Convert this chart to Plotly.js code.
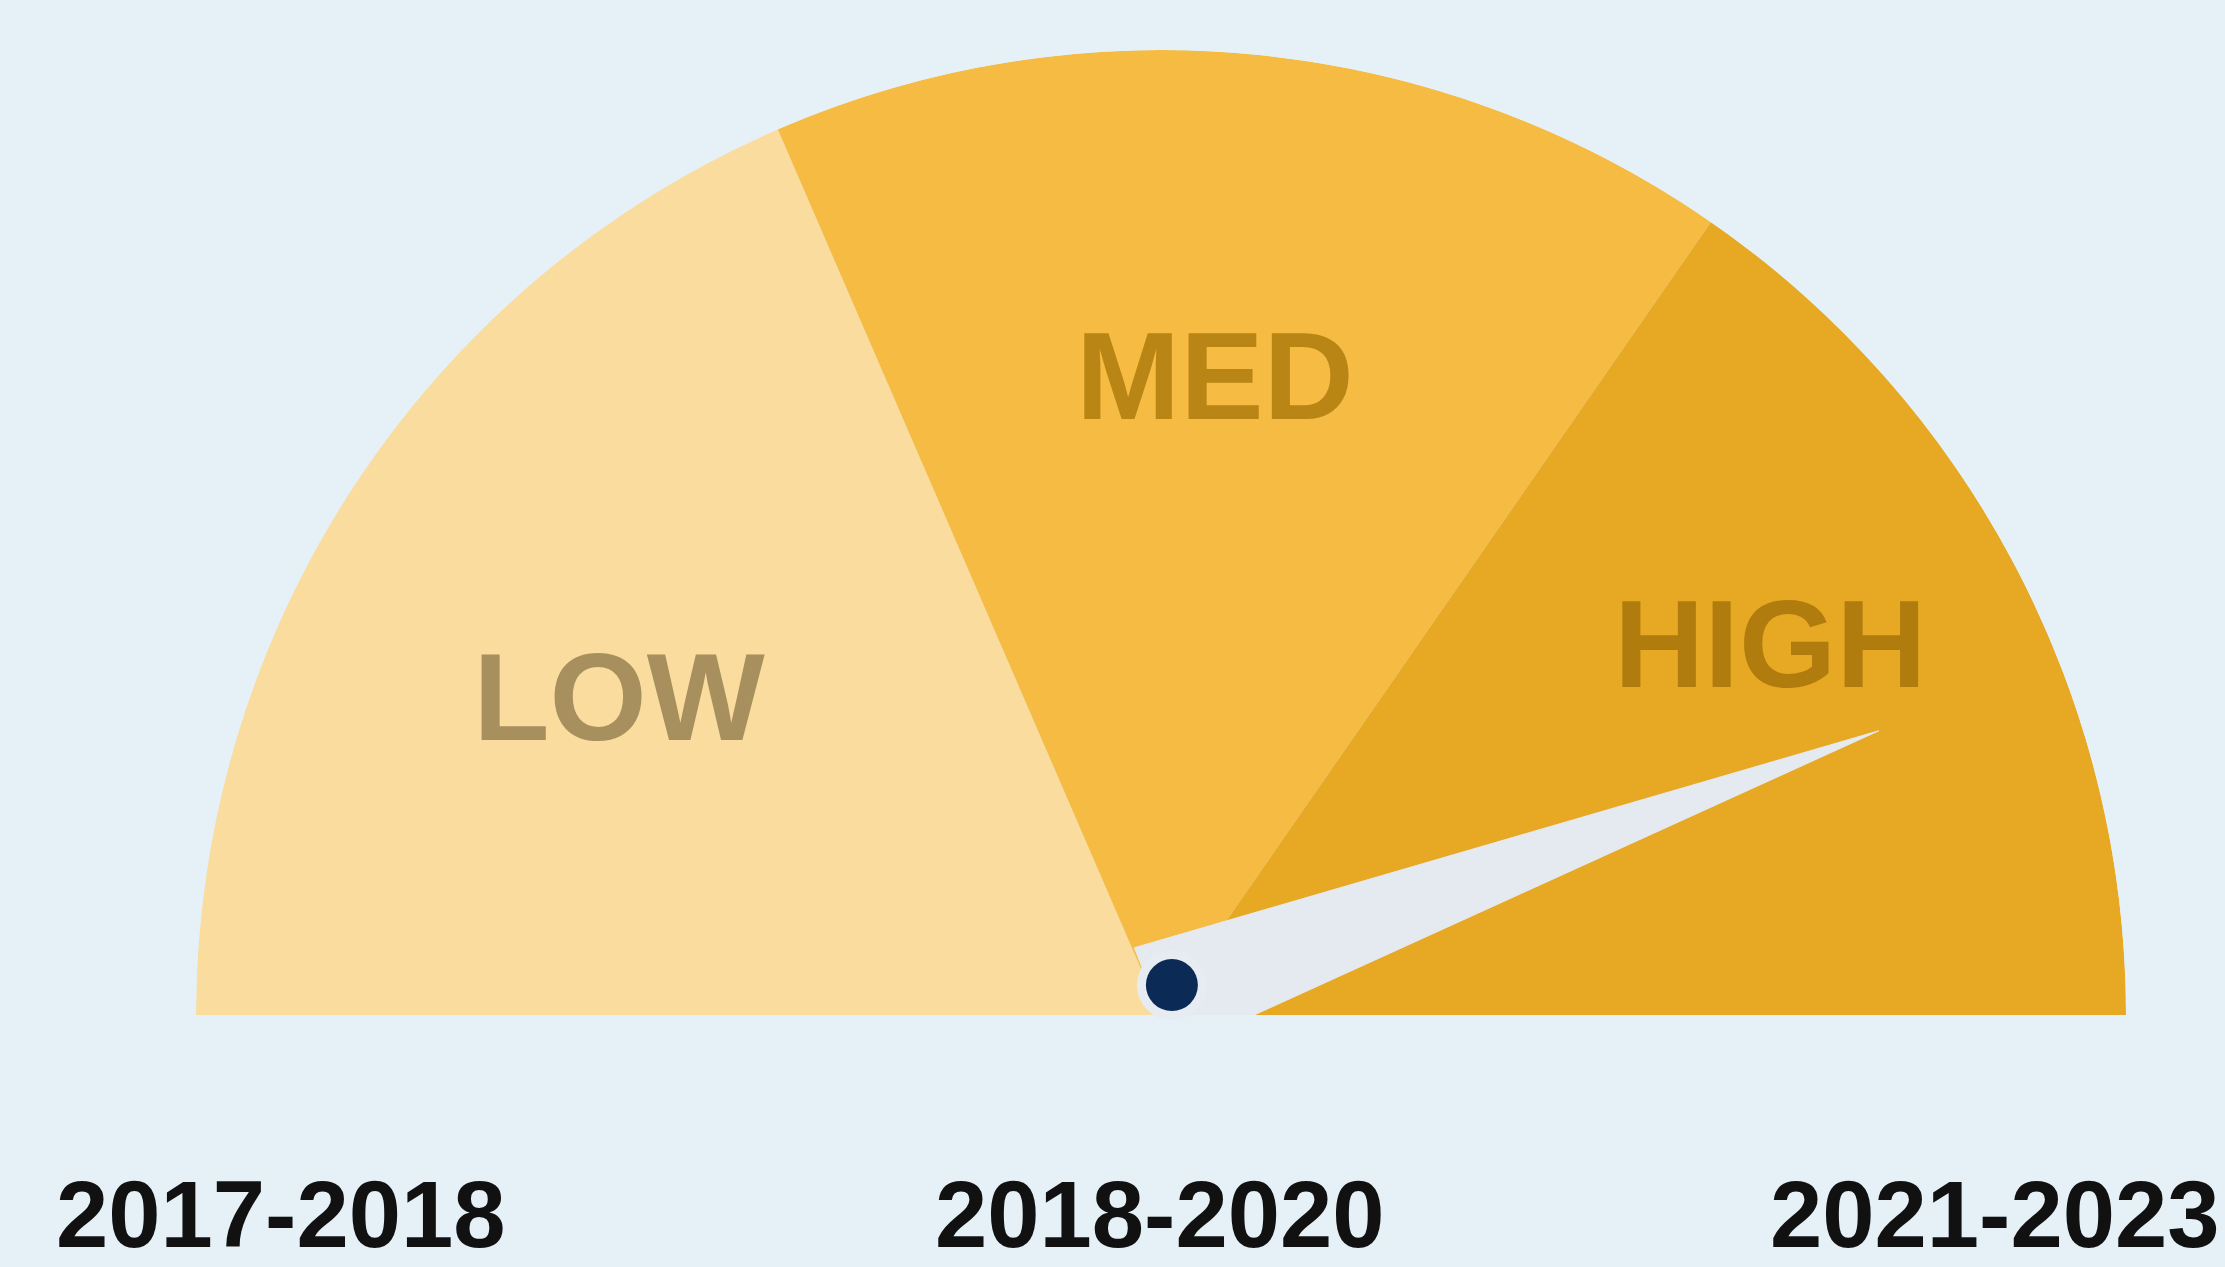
<!DOCTYPE html>
<html>
<head>
<meta charset="utf-8">
<script src="https://cdn.plot.ly/plotly-3.0.1.min.js"></script>
<style>
html,body{margin:0;padding:0;background:#e5f1f6;}
#chart{width:2225px;height:1267px;}
</style>
</head>
<body>
<div id="chart"></div>
<script>
// ---- data ----
const bandLabels = ['LOW', 'MED', 'HIGH'];
const bandEdges = [0, 37, 69.3, 100];
const needleValue = 88;
const periodLabels = ['2017-2018', '2018-2020', '2021-2023'];

// ---- styles ----
const bandColors = ['#f9dc9e', '#f5bb42', '#e7a824'];
const labelColors = ['#a88f5e', '#b98514', '#b07c0e'];
const labelR = [0.645, 0.652, 0.733];
const labelShift = [-3.85, -0.75, -2.9];
const FONT = '"Liberation Sans", Arial, Helvetica, sans-serif';

const toTheta = v => v / 100 * 180;

const mids = [], widths = [];
for (let i = 0; i < bandLabels.length; i++) {
  const a = toTheta(bandEdges[i]), b = toTheta(bandEdges[i + 1]);
  mids.push((a + b) / 2);
  widths.push(b - a);
}

const bands = {
  type: 'barpolar',
  r: bandLabels.map(() => 1),
  theta: mids,
  width: widths,
  marker: {color: bandColors, line: {width: 0}, opacity: 1},
  hoverinfo: 'skip',
  showlegend: false
};

const labels = {
  type: 'scatterpolar',
  mode: 'text',
  r: labelR,
  theta: mids.map((m, i) => m + labelShift[i]),
  text: bandLabels,
  textfont: {family: FONT, size: 125, weight: 700, color: labelColors},
  textposition: 'middle center',
  hoverinfo: 'skip',
  showlegend: false
};

const tv = toTheta(needleValue);
const needle = {
  type: 'scatterpolar',
  mode: 'lines',
  r: [0.075, 0.8, 0.04, 0.075],
  theta: [tv - 90, tv, tv + 90, tv - 90],
  fill: 'toself',
  fillcolor: '#e5eaf0',
  line: {color: '#e5eaf0', width: 1},
  hoverinfo: 'skip',
  showlegend: false
};

const pivot = {
  type: 'scatterpolar',
  mode: 'markers',
  r: [0.033, 0.033],
  theta: [110, 110],
  marker: {size: [70, 52], color: ['#e6ecf2', '#0b2a55'], opacity: 1, line: {width: 0}},
  hoverinfo: 'skip',
  showlegend: false
};

const annX = [54 / 2225, 1160 / 2225, 2222 / 2225];
const annAnchor = ['left', 'center', 'right'];
const annotations = periodLabels.map((t, i) => ({
  text: t,
  xref: 'paper', yref: 'paper',
  x: annX[i], y: 1 - 1214 / 1267,
  xanchor: annAnchor[i], yanchor: 'middle',
  showarrow: false,
  font: {family: FONT, size: 94, weight: 700, color: '#111111'}
}));

const layout = {
  width: 2225, height: 1267,
  margin: {l: 0, r: 0, t: 0, b: 0},
  paper_bgcolor: '#e5f1f6',
  plot_bgcolor: '#e5f1f6',
  showlegend: false,
  polar: {
    domain: {x: [196 / 2225, 2126 / 2225], y: [1 - 1015 / 1267, 1 - 50 / 1267]},
    sector: [0, 180],
    bgcolor: 'rgba(0,0,0,0)',
    bargap: 0,
    hole: 0,
    radialaxis: {range: [0, 1], visible: false, showgrid: false},
    angularaxis: {
      rotation: 180, direction: 'clockwise', thetaunit: 'degrees',
      visible: false, showgrid: false, showline: false, ticks: ''
    }
  },
  annotations: annotations
};

Plotly.newPlot('chart', [bands, labels, needle, pivot], layout, {displayModeBar: false, staticPlot: true});
</script>
</body>
</html>
